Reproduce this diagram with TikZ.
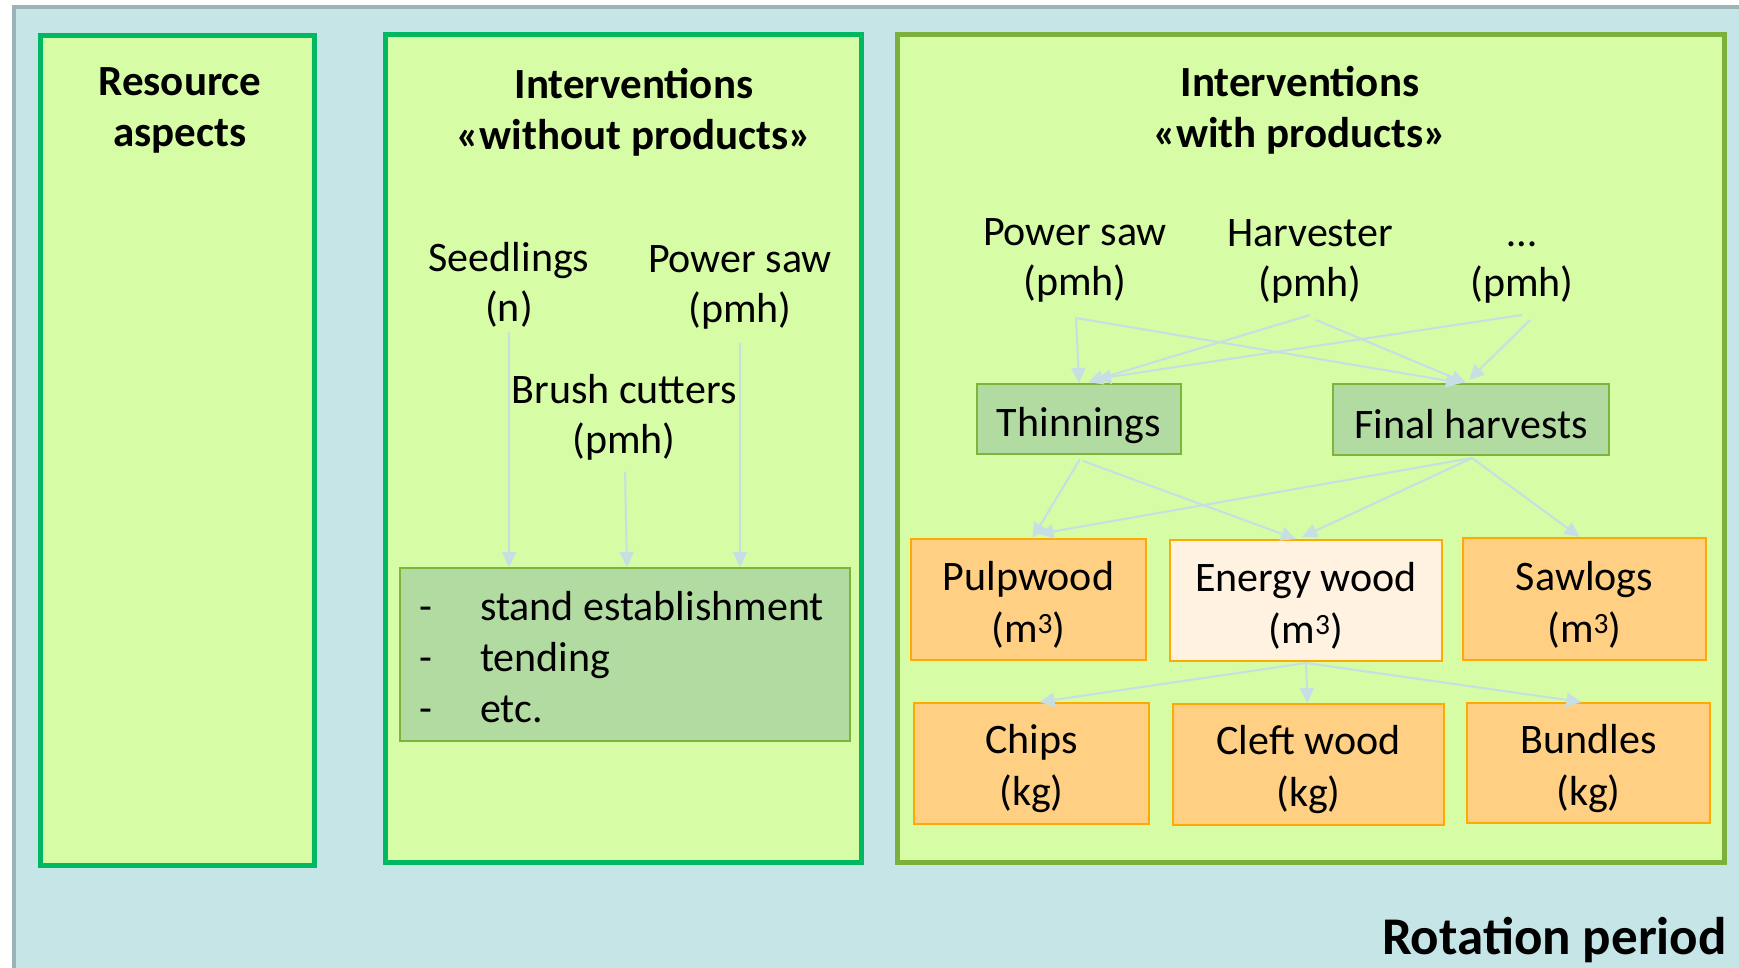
\documentclass[tikz,border=0pt]{standalone}
\usepackage{fontspec}
\setmainfont{Carlito}
\usetikzlibrary{arrows.meta,calc}
\definecolor{bgblue}{HTML}{C5E5E7}
\definecolor{bggrey}{HTML}{9CB4B7}
\definecolor{panelfill}{HTML}{D6FCA5}
\definecolor{panelgreen}{HTML}{00B861}
\definecolor{panelolive}{HTML}{7BB13B}
\definecolor{boxgreen}{HTML}{B2DBA1}
\definecolor{boxgreenline}{HTML}{7DB53C}
\definecolor{boxorange}{HTML}{FFD083}
\definecolor{boxorangeline}{HTML}{FFAA00}
\definecolor{boxcream}{HTML}{FFF2E0}
\definecolor{arrowblue}{HTML}{C6DFE4}
\newcommand\topstrut[1]{\rule{0pt}{#1}}
\newcommand\dashitem{\makebox[54pt][l]{\hspace{-7pt}-}}
\begin{document}
\begin{tikzpicture}[x=1pt,y=-1pt,
  lbl/.style={font=\fontsize{42}{50}\selectfont, align=center, inner sep=0pt},
  ttl/.style={font=\fontsize{43}{51}\selectfont\bfseries, align=center, inner sep=0pt},
  gbox/.style={draw=boxgreenline, fill=boxgreen, line width=2pt, inner sep=0pt,
    font=\fontsize{42}{50}\selectfont, align=center},
  obox/.style={draw=boxorangeline, fill=boxorange, line width=2pt, inner sep=0pt,
    font=\fontsize{42}{52}\selectfont, align=center},
  arr/.style={draw=arrowblue, line width=2pt, -{Triangle[length=15pt,width=14pt]}}
]
\useasboundingbox (0,0) rectangle (1739,967);
\clip (0,0) rectangle (1739,967);
% background
\fill[bgblue] (14,7) rectangle (1800,1000);
\draw[bggrey, line width=4pt] (14,1000) -- (14,7) -- (1800,7);
% panels
\draw[panelgreen, fill=panelfill, line width=5pt] (40.5,35.5) rectangle (314.5,865.5);
\draw[panelgreen, fill=panelfill, line width=5pt] (385.5,34.5) rectangle (861.5,862.5);
\draw[panelolive, fill=panelfill, line width=5pt] (897.5,34.5) rectangle (1724.5,862.5);
% titles (anchor=base is the baseline of the last line)
\node[ttl, anchor=base] (t1) at (180,146) {Resource\\aspects};
\node[ttl, anchor=base] (t2) at (634,149) {Interventions\\«without products»};
\node[ttl, anchor=base] (t3) at (1300,147) {Interventions\\«with products»};
% panel 2
\node[lbl, anchor=base] (seed) at (509,321) {Seedlings\\(n)};
\node[lbl, anchor=base] (psawA) at (740,322) {Power saw\\(pmh)};
\node[lbl, anchor=base] (brush) at (624,453) {Brush cutters\\(pmh)};
\node[gbox, minimum width=450pt, minimum height=173pt, align=left,
  font=\fontsize{42}{51}\selectfont] (list) at (625,654.5)
  {\topstrut{33.5pt}\dashitem stand establishment\\\dashitem tending\\\dashitem etc.};
\draw[arr] ($(seed.south)+(0,5)$) -- (seed.south |- list.north);
\draw[arr] ($(brush.south)+(1,12)$) -- ($(brush.south |- list.north)+(3,0)$);
\draw[arr] ($(psawA.south)+(0,14)$) -- (psawA.south |- list.north);
% panel 3
\node[lbl, anchor=base] (psawB) at (1075,295) {Power saw\\(pmh)};
\node[lbl, anchor=base] (harv) at (1310,296) {Harvester\\(pmh)};
\node[lbl, anchor=base] (dots) at (1522,296) {…\\(pmh)};
\node[gbox, minimum width=204pt, minimum height=70pt] (thin) at (1079,419) {\topstrut{41.5pt}Thinnings};
\node[gbox, minimum width=276pt, minimum height=71pt] (final) at (1471,419.5) {\topstrut{38pt}Final harvests};
\node[obox, minimum width=235pt, minimum height=121pt] (pulp) at (1028.5,599.5) {\topstrut{40pt}Pulpwood\\(m\textsuperscript{3})};
\node[obox, fill=boxcream, minimum width=272pt, minimum height=121pt] (energy) at (1306,600.5) {\topstrut{40pt}Energy wood\\(m\textsuperscript{3})};
\node[obox, minimum width=243pt, minimum height=122pt] (saw) at (1584.5,599) {\topstrut{40pt}Sawlogs\\(m\textsuperscript{3})};
\node[obox, minimum width=235pt, minimum height=121pt] (chips) at (1031.5,763.5) {\topstrut{40pt}Chips\\(kg)};
\node[obox, minimum width=271pt, minimum height=121pt] (cleft) at (1308.5,764.5) {\topstrut{40pt}Cleft wood\\(kg)};
\node[obox, minimum width=243pt, minimum height=120pt] (bund) at (1588.5,763) {\topstrut{40pt}Bundles\\(kg)};
% arrows into thinnings / final harvests
\draw[arr] ($(psawB.south)+(1,16)$) -- ($(thin.north)+(0,0)$);
\draw[arr] ($(psawB.south)+(1,16)$) -- ($(final.north)+(-10,0)$);
\draw[arr] ($(harv.south)+(0,12)$) -- ($(thin.north)+(9,-1)$);
\draw[arr] ($(harv.south)+(6,17)$) -- ($(final.north)+(-5,0)$);
\draw[arr] ($(dots.south)+(0,12)$) -- ($(thin.north)+(17,-4)$);
\draw[arr] ($(dots.south)+(8,17)$) -- ($(final.north)+(-2,-3)$);
% arrows into products
\draw[arr] ($(thin.south)+(1,4)$) -- ($(pulp.north)+(4,0)$);
\draw[arr] ($(thin.south)+(4,6)$) -- ($(energy.north)+(-10,0)$);
\draw[arr] ($(final.south)+(1,2)$) -- ($(pulp.north)+(10,-4)$);
\draw[arr] ($(final.south)+(1,2)$) -- ($(energy.north)+(-4,-2)$);
\draw[arr] ($(final.south)+(1,2)$) -- ($(saw.north)+(-5,0)$);
\draw[arr] ($(energy.south)+(0,1)$) -- ($(chips.north)+(8,0)$);
\draw[arr] ($(energy.south)+(0,1)$) -- ($(cleft.north)+(-1,0)$);
\draw[arr] ($(energy.south)+(0,1)$) -- ($(bund.north)+(-7,0)$);
% rotation period
\node[font=\fontsize{53}{60}\selectfont\bfseries, inner sep=0pt, anchor=base east] (rot) at (1727,954) {Rotation period};
\end{tikzpicture}
\end{document}
